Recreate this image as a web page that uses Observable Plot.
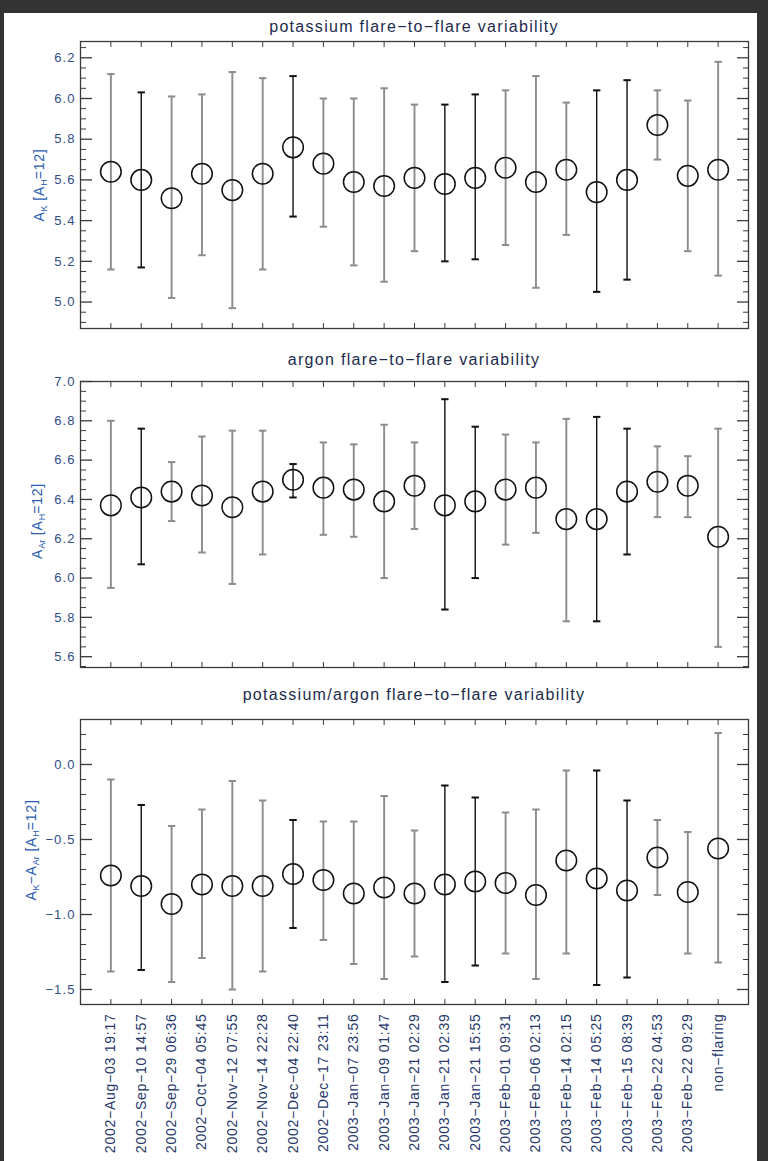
<!DOCTYPE html>
<html>
<head>
<meta charset="utf-8">
<script src="https://cdn.jsdelivr.net/npm/d3@7"></script>
<script src="https://cdn.jsdelivr.net/npm/@observablehq/plot@0.6"></script>
<style>
  html, body { margin: 0; padding: 0; }
  body { width: 768px; height: 1161px; background: #333; position: relative; overflow: hidden;
         font-family: "Liberation Sans", Arial, Helvetica, sans-serif; }
  #sheet { position: absolute; left: 4px; top: 13px; width: 753px; height: 1148px; background: #fff; }
  .plot { position: absolute; left: 0; }
  .title { position: absolute; left: 0; width: 828px; text-align: center; font-size: 16px; line-height: 18px;
           letter-spacing: 1.3px; color: #1c2b4d; white-space: nowrap; }
  .ylab { position: absolute; transform: translate(-50%, -50%) rotate(-90deg); white-space: nowrap;
          font-size: 14px; letter-spacing: 0.8px; color: #2b5cb0; }
  .ylab sub { font-size: 9px; vertical-align: -3px; letter-spacing: 0; }
  svg text { letter-spacing: 1.1px; }
  svg g[aria-label="x-axis tick label"] text { letter-spacing: 0.75px; }
</style>
</head>
<body>
<div id="sheet"></div>
<script>
// ---- data ----
const flareLabels = [
  "2002−Aug−03 19:17", "2002−Sep−10 14:57", "2002−Sep−29 06:36", "2002−Oct−04 05:45",
  "2002−Nov−12 07:55", "2002−Nov−14 22:28", "2002−Dec−04 22:40", "2002−Dec−17 23:11",
  "2003−Jan−07 23:56", "2003−Jan−09 01:47", "2003−Jan−21 02:29", "2003−Jan−21 02:39",
  "2003−Jan−21 15:55", "2003−Feb−01 09:31", "2003−Feb−06 02:13", "2003−Feb−14 02:15",
  "2003−Feb−14 05:25", "2003−Feb−15 08:39", "2003−Feb−22 04:53", "2003−Feb−22 09:29",
  "non−flaring"
];
// which error bars are drawn in black (others grey)
const blackBar = [0,1,0,0,0,0,1,0,0,0,0,1,1,0,0,0,1,1,0,0,0];

const kVal = [5.64, 5.60, 5.51, 5.63, 5.55, 5.63, 5.76, 5.68, 5.59, 5.57, 5.61, 5.58, 5.61, 5.66, 5.59, 5.65, 5.54, 5.60, 5.87, 5.62, 5.65];
const kHi  = [6.12, 6.03, 6.01, 6.02, 6.13, 6.10, 6.11, 6.00, 6.00, 6.05, 5.97, 5.97, 6.02, 6.04, 6.11, 5.98, 6.04, 6.09, 6.04, 5.99, 6.18];
const kLo  = [5.16, 5.17, 5.02, 5.23, 4.97, 5.16, 5.42, 5.37, 5.18, 5.10, 5.25, 5.20, 5.21, 5.28, 5.07, 5.33, 5.05, 5.11, 5.70, 5.25, 5.13];

const arVal = [6.37, 6.41, 6.44, 6.42, 6.36, 6.44, 6.50, 6.46, 6.45, 6.39, 6.47, 6.37, 6.39, 6.45, 6.46, 6.30, 6.30, 6.44, 6.49, 6.47, 6.21];
const arHi  = [6.80, 6.76, 6.59, 6.72, 6.75, 6.75, 6.58, 6.69, 6.68, 6.78, 6.69, 6.91, 6.77, 6.73, 6.69, 6.81, 6.82, 6.76, 6.67, 6.62, 6.76];
const arLo  = [5.95, 6.07, 6.29, 6.13, 5.97, 6.12, 6.41, 6.22, 6.21, 6.00, 6.25, 5.84, 6.00, 6.17, 6.23, 5.78, 5.78, 6.12, 6.31, 6.31, 5.65];

const karVal = [-0.74, -0.81, -0.93, -0.80, -0.81, -0.81, -0.73, -0.77, -0.86, -0.82, -0.86, -0.80, -0.78, -0.79, -0.87, -0.64, -0.76, -0.84, -0.62, -0.85, -0.56];
const karHi  = [-0.10, -0.27, -0.41, -0.30, -0.11, -0.24, -0.37, -0.38, -0.38, -0.21, -0.44, -0.14, -0.22, -0.32, -0.30, -0.04, -0.04, -0.24, -0.37, -0.45, 0.21];
const karLo  = [-1.38, -1.37, -1.45, -1.29, -1.50, -1.38, -1.09, -1.17, -1.33, -1.43, -1.28, -1.45, -1.34, -1.26, -1.43, -1.26, -1.47, -1.42, -0.87, -1.26, -1.32];

const kMajor = [5.0, 5.2, 5.4, 5.6, 5.8, 6.0, 6.2];
const arMajor = [5.6, 5.8, 6.0, 6.2, 6.4, 6.6, 6.8, 7.0];
const karMajor = [-1.5, -1.0, -0.5, 0.0];

const titles = [
  "potassium flare−to−flare variability",
  "argon flare−to−flare variability",
  "potassium/argon flare−to−flare variability"
];

// ---- drawing ----
const xPos = flareLabels.map((_, i) => i + 1);
const capSymbol = {
  draw(context, size) {
    const w = Math.sqrt(size / Math.PI);
    context.moveTo(-w, 0);
    context.lineTo(w, 0);
  }
};
const FRAME = "#3a3a3a";
const GREY = "#8c8c8c";
const BLACK = "#111";

function panel({val, lo, hi, domain, majors, minorStep, top, marginTop, height, marginBottom, showX}) {
  const rows = val.map((v, i) => ({x: i + 1, v, lo: lo[i], hi: hi[i], black: !!blackBar[i]}));
  const greyRows = rows.filter(d => !d.black);
  const blackRows = rows.filter(d => d.black);
  const minors = d3.range(Math.ceil(domain[0] / minorStep - 1e-9), Math.floor(domain[1] / minorStep + 1e-9) + 1)
    .map(k => +(k * minorStep).toFixed(3))
    .filter(v => !majors.some(m => Math.abs(m - v) < 1e-6));
  const fmt = d3.format(".1f");
  const marks = [
    Plot.frame({stroke: FRAME, strokeWidth: 1.3}),
    Plot.axisY(majors, {anchor: "left", tickSize: 12, dx: 12, fill: "none", stroke: FRAME, strokeWidth: 1.3, label: null}),
    Plot.axisY(minors, {anchor: "left", tickSize: 6, dx: 6, fill: "none", stroke: FRAME, strokeWidth: 1, label: null}),
    Plot.axisY(majors, {anchor: "right", tickSize: 12, dx: -12, fill: "none", stroke: FRAME, strokeWidth: 1.3, label: null}),
    Plot.axisY(minors, {anchor: "right", tickSize: 6, dx: -6, fill: "none", stroke: FRAME, strokeWidth: 1, label: null}),
    Plot.axisY(majors, {anchor: "left", tickSize: 0, tickPadding: 5, tickFormat: fmt, fill: "#2f4d86", label: null, fontSize: 13}),
    Plot.axisX(xPos, {anchor: "bottom", tickSize: 5, dy: -5, fill: "none", stroke: FRAME, label: null}),
    Plot.axisX(xPos, {anchor: "top", tickSize: 5, dy: 5, fill: "none", stroke: FRAME, label: null}),
    Plot.ruleX(greyRows, {x: "x", y1: "lo", y2: "hi", stroke: GREY, strokeWidth: 1.9}),
    Plot.dot(greyRows, {x: "x", y: "hi", symbol: capSymbol, r: 3.7, fill: "none", stroke: GREY, strokeWidth: 2}),
    Plot.dot(greyRows, {x: "x", y: "lo", symbol: capSymbol, r: 3.7, fill: "none", stroke: GREY, strokeWidth: 2}),
    Plot.ruleX(blackRows, {x: "x", y1: "lo", y2: "hi", stroke: BLACK, strokeWidth: 1.4}),
    Plot.dot(blackRows, {x: "x", y: "hi", symbol: capSymbol, r: 3.7, fill: "none", stroke: BLACK, strokeWidth: 2}),
    Plot.dot(blackRows, {x: "x", y: "lo", symbol: capSymbol, r: 3.7, fill: "none", stroke: BLACK, strokeWidth: 2}),
    Plot.dot(rows, {x: "x", y: "v", r: 10.3, fill: "none", stroke: BLACK, strokeWidth: 1.5})
  ];
  if (showX) {
    marks.push(Plot.axisX(xPos, {anchor: "bottom", tickSize: 0, tickRotate: -90, tickPadding: 9,
      tickFormat: i => flareLabels[i - 1], fill: "#26386a", fontSize: 14, label: null}));
  }
  const svg = Plot.plot({
    width: 768,
    height,
    marginLeft: 80,
    marginRight: 20,
    marginTop,
    marginBottom,
    x: {type: "linear", domain: [0, 22]},
    y: {type: "linear", domain},
    style: {background: "transparent", fontFamily: "'Liberation Sans', Arial, Helvetica, sans-serif", fontSize: "13px", overflow: "visible"},
    marks
  });
  svg.classList.add("plot");
  svg.style.top = top + "px";
  document.body.appendChild(svg);
}

panel({val: kVal, lo: kLo, hi: kHi, domain: [4.87, 6.28], majors: kMajor, minorStep: 0.05,
       top: 0, marginTop: 41, height: 338, marginBottom: 10, showX: false});
panel({val: arVal, lo: arLo, hi: arHi, domain: [5.545, 7.0], majors: arMajor, minorStep: 0.05,
       top: 340, marginTop: 41, height: 337, marginBottom: 10, showX: false});
panel({val: karVal, lo: karLo, hi: karHi, domain: [-1.6, 0.3], majors: karMajor, minorStep: 0.1,
       top: 680, marginTop: 39, height: 481, marginBottom: 157, showX: true});

const titleTops = [18, 351, 686];
titles.forEach((t, i) => {
  const d = document.createElement("div");
  d.className = "title";
  d.style.top = titleTops[i] + "px";
  d.textContent = t;
  document.body.appendChild(d);
});

const yLabels = [
  {html: "A<sub>K</sub> [A<sub>H</sub>=12]", x: 40, y: 185},
  {html: "A<sub>Ar</sub> [A<sub>H</sub>=12]", x: 38, y: 521},
  {html: "A<sub>K</sub>−A<sub>Ar</sub> [A<sub>H</sub>=12]", x: 32, y: 850}
];
yLabels.forEach(l => {
  const d = document.createElement("div");
  d.className = "ylab";
  d.style.left = l.x + "px";
  d.style.top = l.y + "px";
  d.innerHTML = l.html;
  document.body.appendChild(d);
});
</script>
</body>
</html>
